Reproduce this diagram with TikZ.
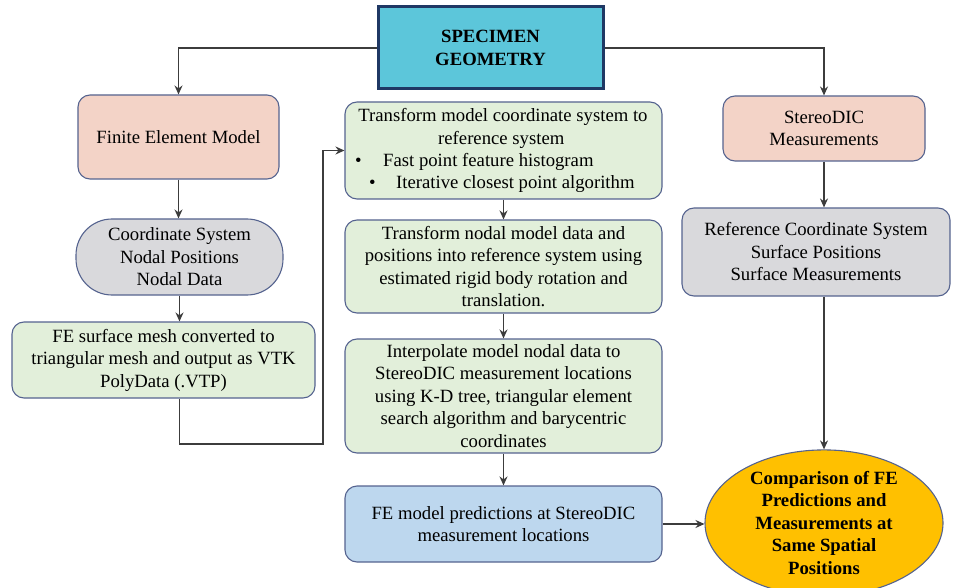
\documentclass[tikz,border=0pt]{standalone}
\usepackage{fontspec}
\IfFontExistsTF{LiberationSerif-Regular.ttf}
  {\setmainfont{LiberationSerif}[Extension=.ttf,UprightFont=*-Regular,BoldFont=*-Bold,ItalicFont=*-Italic,BoldItalicFont=*-BoldItalic]}
  {\setmainfont{Liberation Serif}}
\usetikzlibrary{arrows.meta,shapes.geometric,calc}
\definecolor{pinkfill}{HTML}{F3D3C7}
\definecolor{greenfill}{HTML}{E2EFDA}
\definecolor{grayfill}{HTML}{D9D9DC}
\definecolor{bluefill}{HTML}{BDD7EE}
\definecolor{cyanfill}{HTML}{5CC6DA}
\definecolor{goldfill}{HTML}{FFC000}
\definecolor{boxline}{HTML}{55638F}
\definecolor{specline}{HTML}{1F3864}
\definecolor{lineclr}{HTML}{3C3C3C}
\begin{document}
\begin{tikzpicture}[x=1pt,y=-1pt,
  txt/.style={font=\fontsize{18.7}{22.5}\selectfont},
  box/.style={txt, draw=boxline, line width=1.1pt, rounded corners=12pt, align=center, inner sep=2pt},
  line/.style={txt, inner sep=0pt, anchor=base},
  conn/.style={draw=lineclr, line width=1.3pt, -{Stealth[length=9pt,width=8pt,inset=3pt]}}
]
\useasboundingbox (0,0) rectangle (953,588);

\node[txt, font=\fontsize{18.7}{23}\selectfont\bfseries, draw=specline, line width=3pt, fill=cyanfill, align=center,
      minimum width=225pt, minimum height=82pt] (spec) at (490.5,48) {SPECIMEN\\GEOMETRY};

\node[box, fill=pinkfill, minimum width=201pt, minimum height=84pt] (fem) at (178.5,137) {Finite Element Model};
\node[box, fill=grayfill, rounded corners=36pt, minimum width=207pt, minimum height=76pt] (coord) at (179.5,257)
  {Coordinate System\\Nodal Positions\\Nodal Data};
\node[box, fill=greenfill, minimum width=303pt, minimum height=76pt] (mesh) at (163.5,360)
  {FE surface mesh converted to\\triangular mesh and output as VTK\\PolyData (.VTP)};

\node[box, fill=greenfill, minimum width=317pt, minimum height=97pt] (t1) at (503.5,150.5) {};
\node[line] (t1a) at (503,122) {Transform model coordinate system to};
\node[line, anchor=base west] (t1b) at (438,145) {reference\hspace{0.25em}system};
\node[line, anchor=base west] (t1c) at (355,167) {\makebox[28pt][l]{\textbullet}Fast point feature histogram};
\node[line, anchor=base west] (t1d) at (369,189) {\makebox[27pt][l]{\textbullet}Iterative closest point algorithm};

\node[box, fill=greenfill, minimum width=317pt, minimum height=93pt] (t2) at (503.5,266.5)
  {Transform nodal model data and\\positions into reference system using\\estimated rigid body rotation and\\translation.};
\node[box, fill=greenfill, minimum width=317pt, minimum height=114pt] (t3) at (503.5,396)
  {Interpolate model nodal data to\\StereoDIC measurement locations\\using K-D tree, triangular element\\search algorithm and barycentric\\coordinates};
\node[box, fill=bluefill, minimum width=317pt, minimum height=76pt] (pred) at (503.5,524)
  {FE model predictions at StereoDIC\\measurement locations};

\node[box, fill=pinkfill, minimum width=202pt, minimum height=65pt] (stereo) at (824,128.5)
  {StereoDIC\\Measurements};
\node[box, fill=grayfill, minimum width=268pt, minimum height=88pt] (refsys) at (816,252)
  {Reference Coordinate System\\Surface Positions\\Surface Measurements};
\node[txt, font=\fontsize{18.7}{22.5}\selectfont\bfseries, ellipse, draw=boxline, line width=1.1pt, fill=goldfill,
      align=center, inner sep=0pt, minimum width=238pt, minimum height=136pt] (cmp) at (824,523)
  {Comparison of FE\\Predictions and\\Measurements at\\Same Spatial\\Positions};

\coordinate (bend) at (323,444);

\draw[conn] (spec.west) -| (fem.north);
\draw[conn] (spec.east) -| (stereo.north);
\draw[conn] (fem.south) -- (fem.south |- coord.north);
\draw[conn] (coord.south) -- (coord.south |- mesh.north);
\draw[conn] (mesh.south -| coord.south) |- (bend) |- (t1.west);
\draw[conn] (t1.south) -- (t2.north);
\draw[conn] (t2.south) -- (t3.north);
\draw[conn] (t3.south) -- (pred.north);
\draw[conn] (pred.east) -- (pred.east -| cmp.west);
\draw[conn] (stereo.south) -- (stereo.south |- refsys.north);
\draw[conn] (refsys.south -| cmp.north) -- (cmp.north);
\end{tikzpicture}
\end{document}
